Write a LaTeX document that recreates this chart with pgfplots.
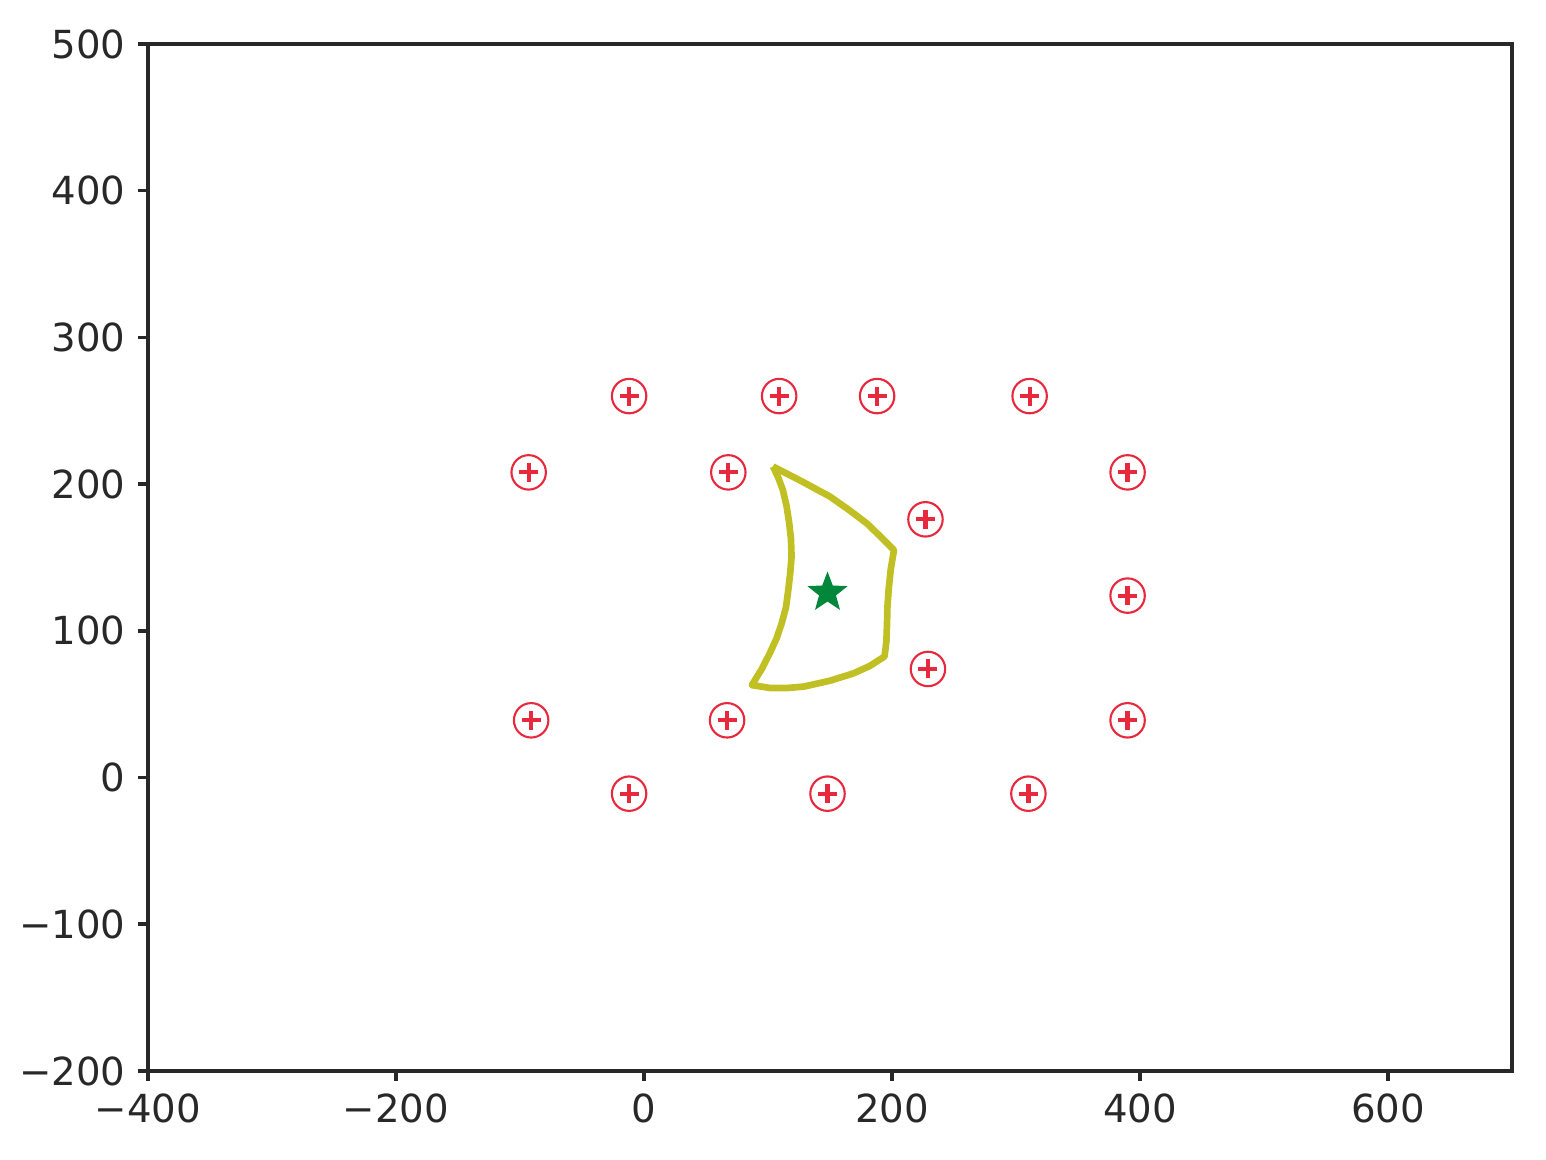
\documentclass[border=0pt]{standalone}
\usepackage{fontspec}
\setmainfont{DejaVu Sans}
\usepackage{pgfplots}
\pgfplotsset{compat=1.18}
\definecolor{mred}{RGB}{232,40,60}
\definecolor{myel}{RGB}{192,192,36}
\definecolor{mgreen}{RGB}{0,135,60}
\definecolor{axc}{RGB}{40,40,40}
\pgfdeclareplotmark{fstar}{%
  \pgfpathmoveto{\pgfpointpolar{90}{\pgfplotmarksize}}%
  \pgfpathlineto{\pgfpointpolar{126}{0.42\pgfplotmarksize}}%
  \pgfpathlineto{\pgfpointpolar{162}{\pgfplotmarksize}}%
  \pgfpathlineto{\pgfpointpolar{198}{0.42\pgfplotmarksize}}%
  \pgfpathlineto{\pgfpointpolar{234}{\pgfplotmarksize}}%
  \pgfpathlineto{\pgfpointpolar{270}{0.42\pgfplotmarksize}}%
  \pgfpathlineto{\pgfpointpolar{306}{\pgfplotmarksize}}%
  \pgfpathlineto{\pgfpointpolar{342}{0.42\pgfplotmarksize}}%
  \pgfpathlineto{\pgfpointpolar{18}{\pgfplotmarksize}}%
  \pgfpathlineto{\pgfpointpolar{54}{0.42\pgfplotmarksize}}%
  \pgfpathclose
  \pgfusepathqfillstroke}
\pgfplotstableread{
x y
-12 260
109 260
188 260
311 260
-93 208
68 208
390 208
227 176
390 124
229 74
-91 39
67 39
390 39
-12 -11
148 -11
310 -11
}\pts
\begin{document}
\begin{tikzpicture}
\begin{axis}[
  scale only axis,
  width=13.64cm, height=10.27cm,
  xmin=-400, xmax=700, ymin=-200, ymax=500,
  xtick={-400,-200,0,200,400,600},
  xticklabels={−400,−200,0,200,400,600},
  ytick={-200,-100,0,100,200,300,400,500},
  yticklabels={−200,−100,0,100,200,300,400,500},
  tick align=outside,
  tick pos=left,
  major tick length=0.1cm,
  axis line style={axc, line width=1pt},
  every tick/.style={axc, line width=1pt},
  tick label style={font=\fontsize{11}{13}\selectfont, text=axc},
  clip=false,
]
\addplot[draw=myel, line width=1.9pt, line join=round] coordinates {
(104,212) (127,202) (150,191.5) (166,182) (180,173) (191,164) (201.6,155)
(199,142) (197.3,128) (196.3,116) (196,105) (195.5,93) (194,82.5)
(182,76) (169,71) (150,66) (129,62) (115,61) (102,61) (87,63)
(95,74) (101.6,85) (107,95) (111,105) (114.5,116) (116.4,128) (118,140)
(119,150.6) (118.5,163) (117,174) (115,185) (112,196) (108,205) (104,212)
};
\addplot[only marks, mark=o, mark size=4.9pt, mark options={draw=mred, line width=0.6pt}] table {\pts};
\addplot[only marks, mark=+, mark size=2.7pt, mark options={draw=mred, line width=1.2pt}] table {\pts};
\addplot[only marks, mark=fstar, mark size=5.6pt, mark options={fill=mgreen, draw=mgreen, line width=0.3pt}] coordinates {(148,126)};
\end{axis}
\path ([shift={(-1.48cm,-0.89cm)}]current axis.south west) rectangle ([shift={(0.34cm,0.44cm)}]current axis.north east);
\end{tikzpicture}
\end{document}
